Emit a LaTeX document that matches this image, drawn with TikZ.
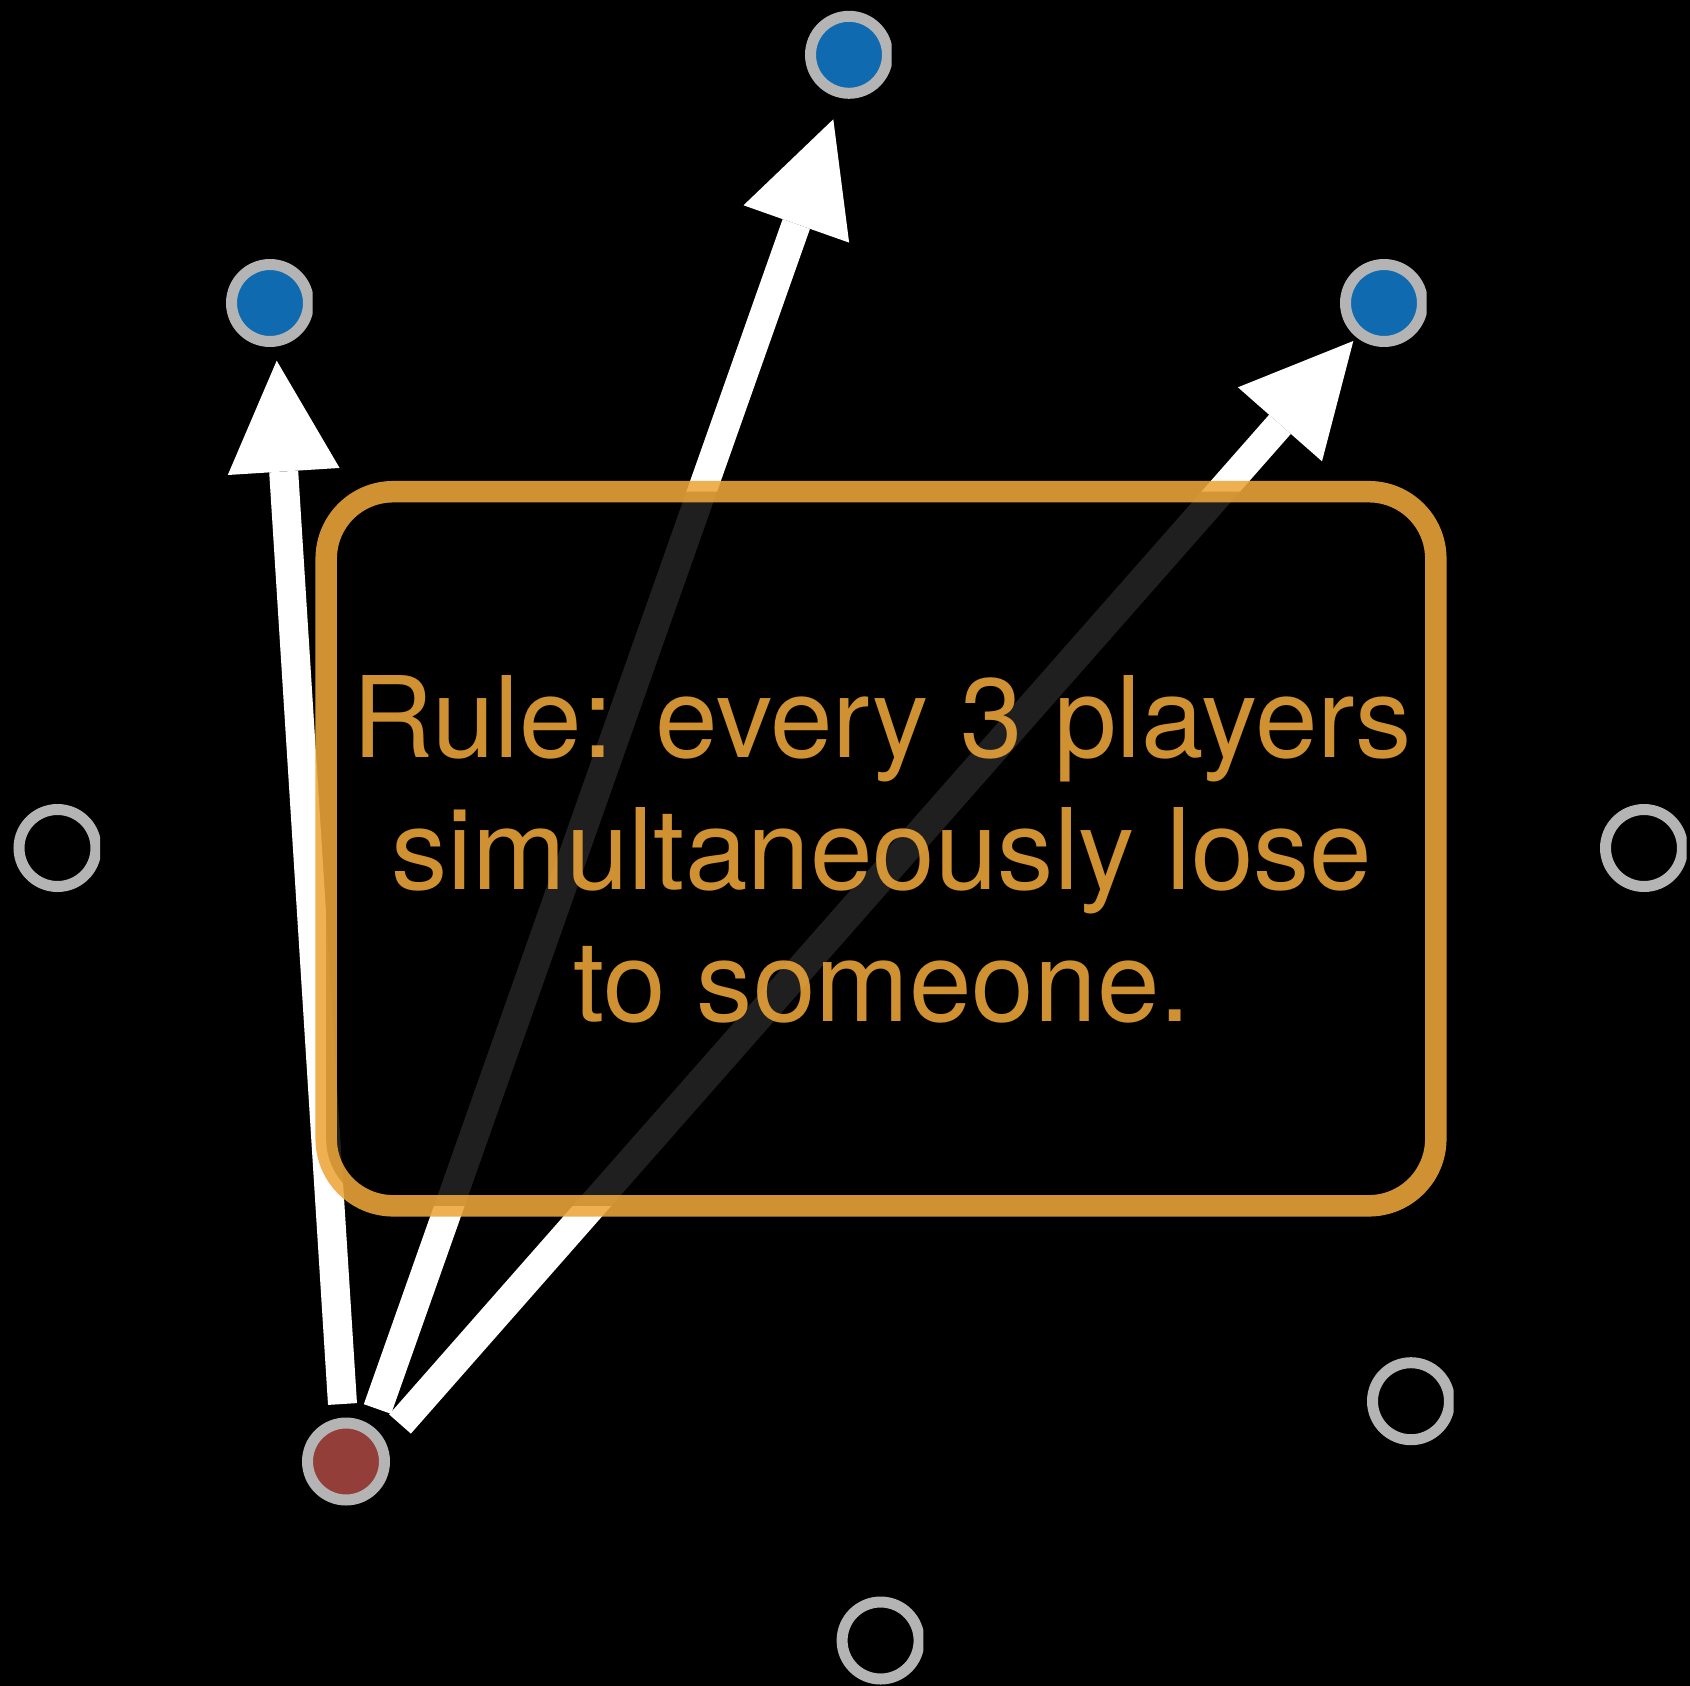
\documentclass[tikz,border=0pt]{standalone}
\usepackage{fontspec}
\setmainfont{TeX Gyre Heros}
\usetikzlibrary{arrows.meta}
\definecolor{ringgrey}{RGB}{180,180,180}
\definecolor{pblue}{RGB}{16,106,176}
\definecolor{pred}{RGB}{148,62,58}
\definecolor{boxorange}{RGB}{236,166,57}
\tikzset{
  player/.style={line width=11pt, draw=ringgrey},
  beats/.style={white, line width=29pt,
    preaction={draw, -, shorten >=60pt},
    -{Triangle[length=111pt,width=112pt,line width=0pt]}},
  rulebox/.style={draw=boxorange, line width=21.5pt, rounded corners=67pt,
    fill=black, fill opacity=0.88, draw opacity=0.88},
  ruletext/.style={text=boxorange, text opacity=0.88, align=center,
    font=\fontsize{112.5}{132}\selectfont}
}
\newcommand{\playerdot}[3]{%
  \begin{scope}
    \clip ([xshift=-50pt,yshift=50pt]#1) rectangle ([xshift=42.7pt,yshift=-50pt]#1);
    \draw[player, #2] (#1) circle[radius=38.5pt];
  \end{scope}}
\begin{document}
\begin{tikzpicture}[x=1pt,y=-1pt]
\useasboundingbox (0,0) rectangle (1690,1686);
\fill[black] (0,0) rectangle (1690,1686);
% players
\coordinate (top) at (849,54.8);
\coordinate (lb) at (270,303);
\coordinate (rb) at (1384,303);
\coordinate (le) at (57.5,848);
\coordinate (re) at (1644,848);
\coordinate (bre) at (1411,1401.2);
\coordinate (be) at (880.6,1640.5);
\coordinate (red) at (346,1461.5);
\playerdot{top}{fill=pblue}{}
\playerdot{lb}{fill=pblue}{}
\playerdot{rb}{fill=pblue}{}
\playerdot{le}{}{}
\playerdot{re}{}{}
\playerdot{bre}{}{}
\playerdot{be}{}{}
\draw[player, fill=pred] (red) circle[radius=38.5pt];
% arrows
\coordinate (t1) at (342.5,1404);
\coordinate (h1) at (276.7,360.7);
\coordinate (t2) at (377.5,1409);
\coordinate (h2) at (833.3,119.3);
\coordinate (t3) at (400,1424);
\coordinate (h3) at (1353.3,341);
\draw[beats] (t1) -- (h1);
\draw[beats] (t2) -- (h2);
\draw[beats] (t3) -- (h3);
% rule box
\draw[rulebox] (326.2,491.7) rectangle (1435.8,1205.8);
\node[ruletext] (rule) at (882,849) {Rule: every 3 players\\simultaneously lose\\to someone.};
\end{tikzpicture}
\end{document}
